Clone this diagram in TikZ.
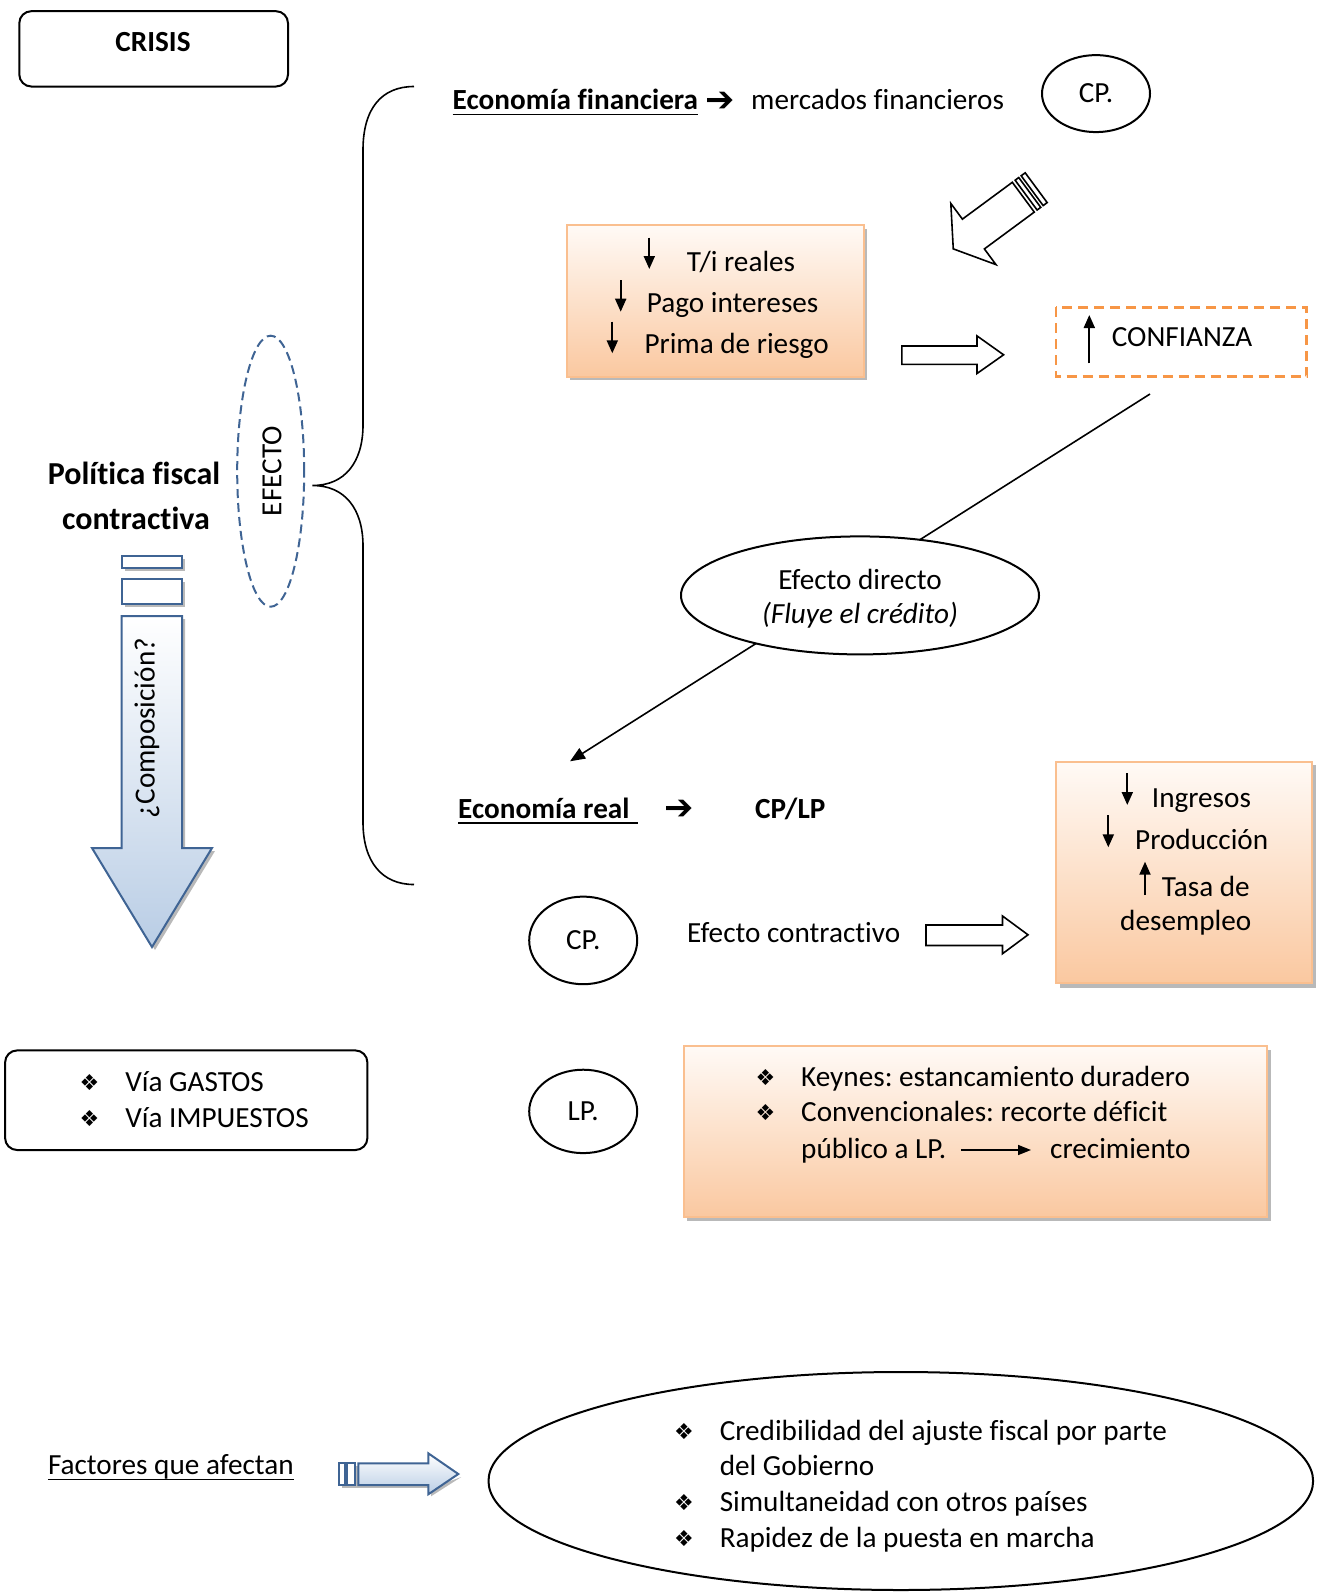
\documentclass[tikz,border=0pt]{standalone}
\usepackage{fontspec}
\setmainfont[Ligatures={NoCommon}]{Carlito}
\newfontfamily\symfont{DejaVu Sans}
\usetikzlibrary{arrows.meta,shapes.geometric}
\frenchspacing

\definecolor{peachline}{RGB}{250,191,143}
\definecolor{peachfill}{RGB}{250,200,160}
\definecolor{peachtop}{RGB}{255,250,246}
\definecolor{dashorange}{RGB}{247,150,70}
\definecolor{blueline}{RGB}{63,100,148}
\definecolor{bluefill}{RGB}{185,205,229}
\definecolor{shadowgray}{RGB}{185,185,185}

\tikzset{
  lbl/.style={anchor=base west, inner sep=0pt},
  clbl/.style={anchor=base, inner sep=0pt},
  bullet/.style={anchor=base, inner sep=0pt, font=\symfont\fontsize{22}{26}\selectfont},
  heavyarrow/.style={anchor=base west, inner sep=0pt, font=\symfont\fontsize{35}{38}\selectfont},
  peachbox/.style={draw=peachline, line width=2pt, top color=peachtop, bottom color=peachfill},
  bluearrow/.style={draw=blueline, line width=2pt, top color=white, bottom color=bluefill},
  bluestripe/.style={draw=blueline, line width=2pt, fill=white},
  openarrow/.style={draw=black, line width=1.6pt, fill=white},
  smallarrow/.style={line width=2pt, -{Triangle[length=13pt,width=11pt]}},
  oval/.style={ellipse, draw, line width=2pt, inner sep=0pt},
}

\begin{document}
\begin{tikzpicture}[x=1pt, y=-1pt, font=\fontsize{29.2}{35.4}\selectfont]
\useasboundingbox (0,0) rectangle (1318,1596);

% ---------- title box ----------
\draw[line width=2pt, rounded corners=12pt] (19.3,11.2) rectangle (288,86.5);
\node[clbl] (crisis) at (153,51) {\bfseries CRISIS};

% ---------- left column ----------
\node[clbl, font=\bfseries\fontsize{32}{38}\selectfont] (pol1) at (134,484) {Política fiscal};
\node[clbl, font=\bfseries\fontsize{32}{38}\selectfont] (pol2) at (136,529) {contractiva};

% dashed ellipse with EFECTO
\node[oval, draw=blueline, dash pattern=on 9pt off 5pt, minimum width=67pt, minimum height=271pt] (efectoov) at (270.7,471.2) {};
\node[rotate=90, inner sep=0pt] (efecto) at (272,471) {EFECTO};

% big curly brace
\draw[line width=1.6pt] (414,86.5) .. controls (382,86.5) and (363,108) .. (363,150)
  -- (363,425) .. controls (363,462) and (345,485.5) .. (312.5,485.5)
  .. controls (345,485.5) and (363,509) .. (363,546)
  -- (363,822) .. controls (363,862) and (382,884.5) .. (414,884.5);

% striped down arrow
\fill[shadowgray] (124.5,558.5) rectangle (185,570.5);
\fill[shadowgray] (124.5,582) rectangle (185,606.5);
\fill[shadowgray] (124.5,619) -- (185,619) -- (185,851) -- (215,851) -- (155,950) -- (95,851) -- (124.5,851) -- cycle;
\draw[bluestripe] (121.5,555.5) rectangle (182,567.5);
\draw[bluestripe] (121.5,579) rectangle (182,603.5);
\draw[bluearrow] (121.5,616) -- (182,616) -- (182,848) -- (212,848) -- (152,947) -- (92,848) -- (121.5,848) -- cycle;
\node[rotate=90, inner sep=0pt] (compos) at (147,728) {¿Composición?};

% list box
\draw[line width=2pt, rounded corners=12pt] (5.1,1050.4) rectangle (367.4,1150);
\node[bullet] (b1) at (89.6,1090) {❖};
\node[lbl] (gastos) at (125.2,1091) {Vía GASTOS};
\node[bullet] (b2) at (89.6,1126.6) {❖};
\node[lbl] (impuestos) at (125.2,1127.6) {Vía IMPUESTOS};

% ---------- financial economy ----------
\node[lbl] (econfin) at (452.5,109.5) {\bfseries Economía financiera};
\draw[line width=1.6pt] ([yshift=-5pt]econfin.base west) -- ([yshift=-5pt]econfin.base east);
\node[heavyarrow] (arr1) at (705,111) {➔};
\node[lbl] (mercados) at (751,109.5) {mercados financieros};
\node[oval, minimum width=108pt, minimum height=77pt] (cp1) at (1096,93.6) {CP.};

% striped arrow pointing down-left (local frame along the arrow axis)
\begin{scope}[shift={(1023.3,197.2)}]
\begin{scope}[x={(-0.805pt,-0.594pt)}, y={(0.594pt,-0.805pt)}]
  \draw[line width=1.6pt, fill=white] (0,-18.5) -- (62,-18.5) -- (62,-38) -- (87,0) -- (62,38) -- (62,18.5) -- (0,18.5) -- cycle;
  \draw[line width=1.6pt, fill=white] (-3.5,-18.5) -- (-8,-18.5) -- (-8,18.5) -- (-3.5,18.5) -- cycle;
  \draw[line width=1.6pt, fill=white] (-11,-18.5) -- (-16,-18.5) -- (-16,18.5) -- (-11,18.5) -- cycle;
\end{scope}
\end{scope}

% peach box with falling indicators
\fill[shadowgray] (570.3,229) rectangle (867,380);
\draw[peachbox] (567.3,225) rectangle (864,376.7);
\node[lbl] (tireal) at (686.7,271) {T/i reales};
\node[lbl] (pago) at (646.7,312.3) {Pago intereses};
\node[lbl] (prima) at (644.3,353.3) {Prima de riesgo};
\draw[smallarrow] (649.3,237.7) -- (649.3,269);
\draw[smallarrow] (620.7,280) -- (620.7,311.7);
\draw[smallarrow] (612.3,321.7) -- (612.3,353.3);

% open arrow towards confidence
\draw[openarrow] (901.8,346) -- (977,346) -- (977,335.9) -- (1003.6,354.8) -- (977,373.5) -- (977,364.4) -- (901.8,364.4) -- cycle;

% confidence box
\draw[draw=dashorange, line width=2.5pt, dash pattern=on 10pt off 6pt] (1056,307.3) rectangle (1306.7,376.7);
\draw[smallarrow] (1089.3,363.3) -- (1089.3,315);
\node[lbl] (confianza) at (1111.7,346.7) {CONFIANZA};

% direct effect connector
\coordinate (conftail) at (1150,394);
\coordinate (realtip) at (570,761.3);
\draw[line width=1.6pt, -{Triangle[length=15pt,width=12pt]}] (conftail) -- (realtip);
\node[oval, fill=white, minimum width=358pt, minimum height=118pt] (directo) at (860,595.4) {};
\node[clbl] (directo1) at (860,589) {Efecto directo};
\node[clbl] (directo2) at (860,623) {\itshape (Fluye el crédito)};

% ---------- real economy ----------
\node[lbl] (econreal) at (458,818) {\bfseries Economía real};
\draw[line width=1.6pt] ([yshift=-5pt]econreal.base west) -- ([yshift=-5pt,xshift=8pt]econreal.base east);
\node[heavyarrow] (arr2) at (664,819.5) {➔};
\node[lbl] (cplp) at (755,818) {\bfseries CP/LP};

% short-run
\node[oval, minimum width=108pt, minimum height=87.6pt] (cp2) at (583.2,940.4) {CP.};
\node[lbl] (contract) at (687,942) {Efecto contractivo};
\draw[openarrow] (926,925) -- (1002.5,925) -- (1002.5,916) -- (1028,934.8) -- (1002.5,953.7) -- (1002.5,945.5) -- (926,945.5) -- cycle;

\fill[shadowgray] (1059.5,765) rectangle (1316,987.5);
\draw[peachbox] (1056,761.7) rectangle (1311.7,983.3);
\node[lbl] (ingresos) at (1151.7,807.3) {Ingresos};
\node[lbl] (produccion) at (1135,849.3) {Producción};
\node[lbl] (tasa) at (1161.7,896.7) {Tasa de};
\node[lbl] (desempleo) at (1120,930) {desempleo};
\draw[smallarrow] (1127.3,773.3) -- (1127.3,805);
\draw[smallarrow] (1108.3,815) -- (1108.3,847.3);
\draw[smallarrow] (1145,895) -- (1145,861.7);

% long-run
\node[oval, minimum width=108pt, minimum height=83.4pt] (lp) at (583.2,1111.4) {LP.};
\fill[shadowgray] (687,1050) rectangle (1270.5,1221);
\draw[peachbox] (684,1046.3) rectangle (1267.2,1217.3);
\node[bullet] (b3) at (765.4,1085) {❖};
\node[lbl] (keynes) at (801,1086) {Keynes: estancamiento duradero};
\node[bullet] (b4) at (765.4,1120.4) {❖};
\node[lbl] (conv) at (801,1121.4) {Convencionales: recorte déficit};
\node[lbl] (publico) at (801,1158) {público a LP.};
\node[lbl] (crec) at (1050,1158) {crecimiento};
\draw[line width=1.6pt, -{Triangle[length=13pt,width=10pt]}] (960.8,1150) -- (1031,1150);

% ---------- factors ----------
\node[lbl] (factores) at (47.8,1474.6) {Factores que afectan};
\draw[line width=1.6pt] ([yshift=-5pt]factores.base west) -- ([yshift=-5pt]factores.base east);

\fill[shadowgray] (342,1466.3) rectangle (431,1488);
\fill[shadowgray] (431,1488) -- (431,1496.3) -- (461.3,1477) -- cycle;
\draw[bluestripe] (339.3,1463.3) rectangle (345,1485);
\draw[bluestripe] (346.7,1463.3) rectangle (355,1485);
\draw[bluearrow] (358.3,1463.3) -- (428.3,1463.3) -- (428.3,1453.3) -- (458.3,1474) -- (428.3,1494.3) -- (428.3,1485) -- (358.3,1485) -- cycle;

\node[oval, minimum width=824.6pt, minimum height=218pt] (factorsov) at (900.8,1481) {};
\node[bullet] (b5) at (684,1439) {❖};
\node[lbl] (cred1) at (719.6,1440) {Credibilidad del ajuste fiscal por parte};
\node[lbl] (cred2) at (719.6,1475.7) {del Gobierno};
\node[bullet] (b6) at (684,1510.3) {❖};
\node[lbl] (simul) at (719.6,1511.3) {Simultaneidad con otros países};
\node[bullet] (b7) at (684,1546) {❖};
\node[lbl] (rapidez) at (719.6,1547) {Rapidez de la puesta en marcha};
\end{tikzpicture}
\end{document}
